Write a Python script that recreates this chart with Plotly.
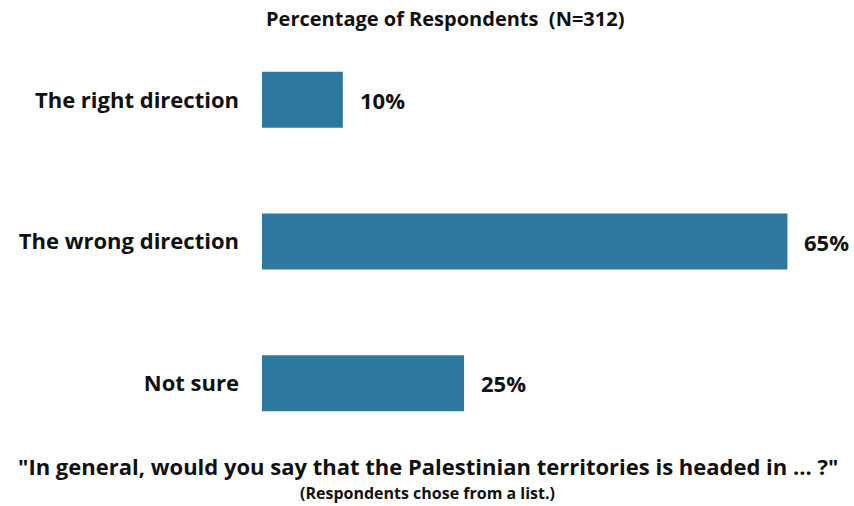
import plotly.graph_objects as go

categories = ["The right direction", "The wrong direction", "Not sure"]
values = [10, 65, 25]
value_labels = ["10%", "65%", "25%"]

FONT = "Open Sans"
DARK = "#111111"
fig = go.Figure()
fig.add_trace(go.Bar(
    y=categories, x=values, orientation="h",
    marker=dict(color="#2E78A0", line=dict(width=0)),
    hoverinfo="skip",
))

annotations = []
for c, v, t in zip(categories, values, value_labels):
    annotations.append(dict(x=v, y=c, xref="x", yref="y", text="<b>%s</b>" % t,
                            showarrow=False, xanchor="left", xshift=15,
                            font=dict(family=FONT, size=22, color=DARK)))

PW = 582
annotations.append(dict(x=(445 - 262) / PW, y=1, xref="paper", yref="paper", yshift=11,
                        text="<b>Percentage of Respondents  (N=312)</b>", showarrow=False,
                        xanchor="center", yanchor="middle",
                        font=dict(family=FONT, size=20, color=DARK)))
annotations.append(dict(x=(428 - 262) / PW, y=0, xref="paper", yref="paper", yshift=-12,
                        text="<b>\"In general, would you say that the Palestinian territories is headed in ... ?\"</b>",
                        showarrow=False, xanchor="center", yanchor="middle",
                        font=dict(family=FONT, size=22, color=DARK)))
annotations.append(dict(x=(427 - 262) / PW, y=0, xref="paper", yref="paper", yshift=-39,
                        text="<b>(Respondents chose from a list.)</b>",
                        showarrow=False, xanchor="center", yanchor="middle",
                        font=dict(family=FONT, size=16, color=DARK)))

fig.update_layout(
    width=854, height=506,
    margin=dict(l=262, r=10, t=29, b=52),
    plot_bgcolor="white", paper_bgcolor="white",
    bargap=0.605,
    showlegend=False,
    annotations=annotations,
    xaxis=dict(range=[0, 72], visible=False, fixedrange=True),
    yaxis=dict(autorange="reversed", showgrid=False, zeroline=False, showline=False,
               ticks="", ticklabelstandoff=22, automargin=False,
               tickfont=dict(family=FONT, size=22, color=DARK, weight="bold")),
)
fig.write_html("out.html", config={"displayModeBar": False},
               post_script="document.body.style.margin='0';document.body.style.overflow='hidden';")
